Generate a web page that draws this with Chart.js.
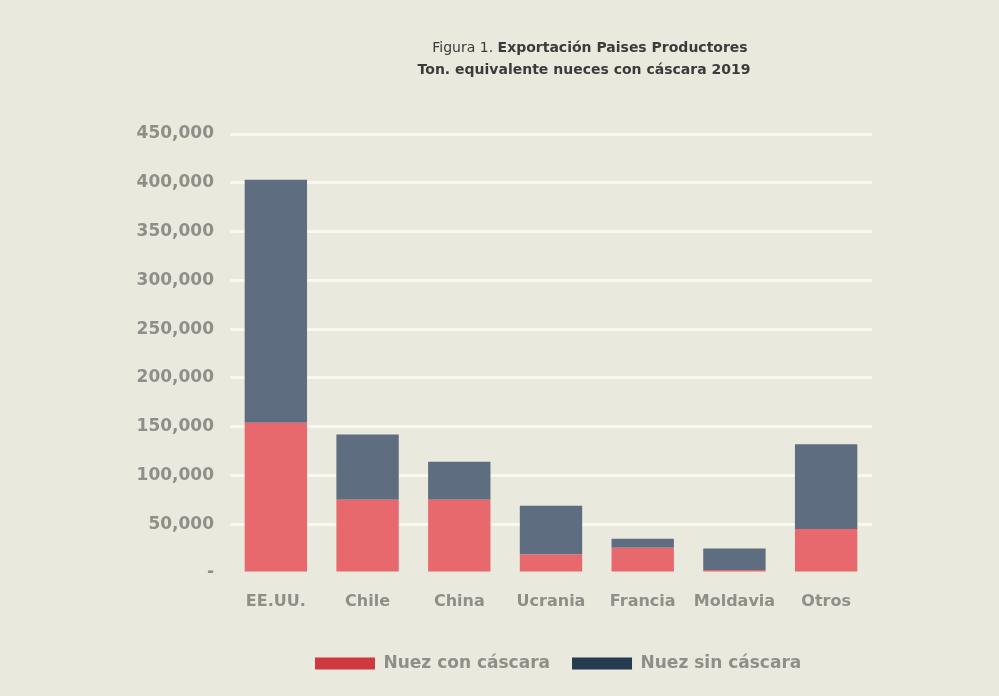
<!DOCTYPE html>
<html>
<head>
<meta charset="utf-8">
<script src="https://cdn.jsdelivr.net/npm/chart.js@4/dist/chart.umd.min.js"></script>
<style>
  body { margin: 0; background: #e9e9dd; }
  canvas { display: block; }
</style>
</head>
<body>
<canvas id="myChart" width="999" height="696"></canvas>
<script>
"use strict";

// Data
const paises = ["EE.UU.", "Chile", "China", "Ucrania", "Francia", "Moldavia", "Otros"];
const conCascara = [154000, 75000, 75000, 19000, 26000, 3000, 45000];
const sinCascara = [249000, 67000, 39000, 50000, 9000, 22000, 87000];
const tituloLinea1 = ["Figura 1. ", "Exportación Paises Productores"];
const tituloLinea2 = "Ton. equivalente nueces con cáscara 2019";

const grisTexto = "#8f8f8a";
const fuente = "DejaVu Sans";

// Title drawn by hand (two weights on one line)
const tituloPlugin = {
    id: "titulo",
    afterDraw(chart) {
        const ctx = chart.ctx;
        ctx.save();
        ctx.fillStyle = "#3b3b3b";
        ctx.textBaseline = "middle";
        ctx.font = "14px " + fuente;
        const w1 = ctx.measureText(tituloLinea1[0]).width;
        ctx.font = "bold 14px " + fuente;
        const w2 = ctx.measureText(tituloLinea1[1]).width;
        const x0 = 590 - (w1 + w2) / 2;
        ctx.textAlign = "left";
        ctx.font = "14px " + fuente;
        ctx.fillText(tituloLinea1[0], x0, 48);
        ctx.font = "bold 14px " + fuente;
        ctx.fillText(tituloLinea1[1], x0 + w1, 48);
        ctx.textAlign = "center";
        ctx.fillText(tituloLinea2, 584, 70);
        ctx.restore();
    },
};

// move the legend to the right, under the bars
const leyendaPlugin = {
    id: "moverLeyenda",
    afterLayout(chart) {
        const lg = chart.legend;
        const d = 315 - 22 - lg.left;
        lg.left += d;
        lg.right += d;
    },
};

const legendColors = ["#cf3a40", "#253b50"];

const data = {
    labels: paises,
    datasets: [
        {
            label: "Nuez con cáscara",
            data: conCascara,
            backgroundColor: "#e8696d",
        },
        {
            label: "Nuez sin cáscara",
            data: sinCascara,
            backgroundColor: "#5f6d80",
        },
    ],
};

const config = {
    type: "bar",
    data: data,
    plugins: [tituloPlugin, leyendaPlugin],
    options: {
        responsive: false,
        animation: false,
        barPercentage: 0.68,
        categoryPercentage: 1,
        layout: {
            padding: { top: 134, left: 130, right: 127, bottom: 14 },
        },
        scales: {
            x: {
                stacked: true,
                grid: { display: false, drawTicks: false },
                border: { display: false },
                ticks: {
                    padding: 19,
                    maxRotation: 0,
                    minRotation: 0,
                    autoSkip: false,
                    color: grisTexto,
                    font: { family: fuente, size: 16, weight: "bold" },
                },
                afterFit(scale) {
                    scale.height = 60;
                },
            },
            y: {
                stacked: true,
                min: 0,
                max: 450000,
                grid: {
                    drawTicks: false,
                    lineWidth: 3,
                    color: (c) => (c.tick && c.tick.value === 0 ? "rgba(0,0,0,0)" : "#f8f8f1"),
                },
                border: { display: false },
                ticks: {
                    stepSize: 50000,
                    padding: 16,
                    color: grisTexto,
                    font: { family: fuente, size: 17, weight: "bold" },
                    callback: (v) => (v === 0 ? "-" : v.toLocaleString("en-US")),
                },
                afterFit(scale) {
                    scale.width = 100;
                },
            },
        },
        plugins: {
            title: { display: false },
            tooltip: { enabled: false },
            legend: {
                position: "bottom",
                align: "start",
                labels: {
                    boxWidth: 60,
                    boxHeight: 12,
                    padding: 22,
                    color: grisTexto,
                    font: { family: fuente, size: 17, weight: "bold" },
                    generateLabels(chart) {
                        return chart.data.datasets.map((ds, i) => ({
                            text: ds.label,
                            fillStyle: legendColors[i],
                            strokeStyle: legendColors[i],
                            lineWidth: 0,
                            fontColor: grisTexto,
                            datasetIndex: i,
                        }));
                    },
                },
            },
        },
    },
};

const myChart = new Chart(document.getElementById("myChart"), config);
</script>
</body>
</html>
